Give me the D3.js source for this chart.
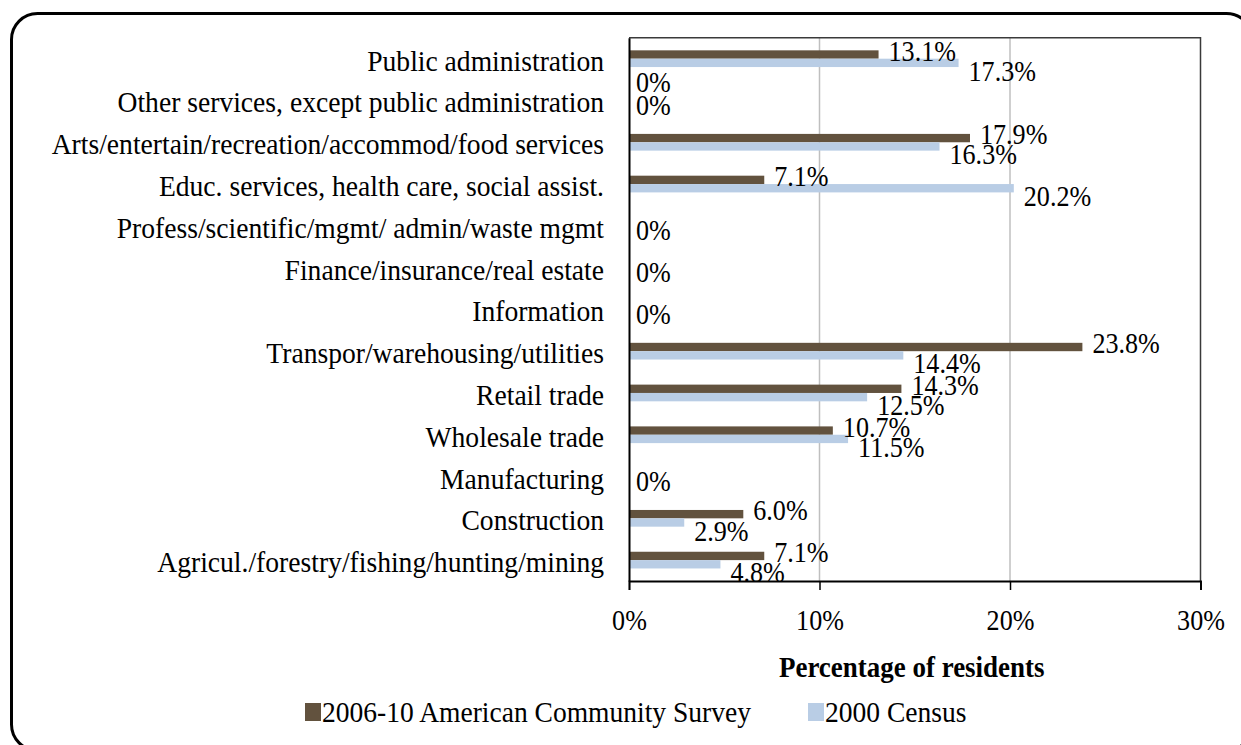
<!DOCTYPE html>
<html>
<head>
<meta charset="utf-8">
<script src="https://cdn.jsdelivr.net/npm/d3@7"></script>
<style>
  html, body { margin: 0; padding: 0; background: #fff; }
  svg { display: block; }
  text { font-family: "Liberation Serif", "Times New Roman", serif; fill: #000; }
</style>
</head>
<body>
<svg id="chart" width="1241" height="745"></svg>
<script>
// ---- data ----
const categories = [
  "Public administration",
  "Other services, except public administration",
  "Arts/entertain/recreation/accommod/food services",
  "Educ. services, health care, social assist.",
  "Profess/scientific/mgmt/ admin/waste mgmt",
  "Finance/insurance/real estate",
  "Information",
  "Transpor/warehousing/utilities",
  "Retail trade",
  "Wholesale trade",
  "Manufacturing",
  "Construction",
  "Agricul./forestry/fishing/hunting/mining"
];
const seriesNames = ["2006-10 American Community Survey", "2000 Census"];
const acsValues    = [13.1, 0, 17.9, 7.1, null, null, null, 23.8, 14.3, 10.7, null, 6.0, 7.1];
const censusValues = [17.3, 0, 16.3, 20.2, 0, 0, 0, 14.4, 12.5, 11.5, 0, 2.9, 4.8];
const xTicks = [0, 10, 20, 30];
const axisTitle = "Percentage of residents";
const colors = ["#62523E", "#B9CDE5"];

// ---- layout ----
const svg = d3.select("#chart");
const plot = { left: 629, right: 1200.5, top: 37.8, bottom: 581 };

// outer rounded frame
svg.append("rect")
  .attr("x", 11.5).attr("y", 13.5)
  .attr("width", 1241).attr("height", 737)
  .attr("rx", 26).attr("ry", 26)
  .attr("fill", "none").attr("stroke", "#000").attr("stroke-width", 3);

const x = d3.scaleLinear().domain([0, 30]).range([plot.left, plot.right]);
const y = d3.scaleBand().domain(categories).range([plot.top, plot.bottom])
  .paddingInner(0.6).paddingOuter(0.3);
const ySub = d3.scaleBand().domain(seriesNames).range([0, y.bandwidth()]);

function scaledText(sel, sx) {
  return sel.attr("transform", function() {
    const tx = +this.getAttribute("data-x"), ty = +this.getAttribute("data-y");
    return `translate(${tx},${ty}) scale(${sx},1)`;
  });
}

// gridlines
svg.append("g").selectAll("line")
  .data(xTicks.filter(t => t > 0 && t < 30))
  .join("line")
  .attr("x1", d => x(d)).attr("x2", d => x(d))
  .attr("y1", plot.top).attr("y2", plot.bottom)
  .attr("stroke", "#BFBFBF").attr("stroke-width", 1.5);

// plot frame (top & right)
svg.append("path")
  .attr("d", `M${plot.left},${plot.top}H${plot.right}V${plot.bottom}`)
  .attr("fill", "none").attr("stroke", "#3a3a3a").attr("stroke-width", 1.5);

// bars
const series = [acsValues, censusValues];
series.forEach((vals, si) => {
  svg.append("g").selectAll("rect")
    .data(categories.map((c, i) => ({ c, v: vals[i] })).filter(d => d.v !== null && d.v > 0))
    .join("rect")
    .attr("x", x(0))
    .attr("y", d => y(d.c) + ySub(seriesNames[si]))
    .attr("width", d => x(d.v) - x(0))
    .attr("height", ySub.bandwidth())
    .attr("fill", colors[si]);
});

// value labels (data labels at outside end, nudged apart like the original)
const fmt = v => v === 0 ? "0%" : v.toFixed(1) + "%";
function labelDy(si, i) {
  const other = series[1 - si][i];
  if (si === 0) return series[0][i] === 0 ? -4 : 6;
  if (other === null) return 10;           // lone label: near band centre
  return series[1][i] === 0 ? 10 : 18;
}
series.forEach((vals, si) => {
  svg.append("g").selectAll("text")
    .data(categories.map((c, i) => ({ c, i, v: vals[i] })).filter(d => d.v !== null))
    .join("text")
    .attr("data-x", d => x(d.v) + (d.v === 0 ? 7 : 10))
    .attr("data-y", d => y(d.c) + ySub(seriesNames[si]) + ySub.bandwidth() / 2 + labelDy(si, d.i))
    .attr("font-size", 30)
    .attr("text-anchor", "start")
    .text(d => fmt(d.v))
    .call(scaledText, 0.87);
});

// x axis
const xAxis = d3.axisBottom(x).tickValues(xTicks).tickFormat(d => d + "%").tickSize(9).tickPadding(0);
const gx = svg.append("g").attr("transform", `translate(0,${plot.bottom})`).call(xAxis);
gx.select(".domain").attr("stroke", "#000").attr("stroke-width", 1.8);
gx.selectAll(".tick line").attr("stroke", "#000").attr("stroke-width", 1.5);
gx.selectAll(".tick text")
  .attr("y", null).attr("dy", null)
  .attr("data-x", 0).attr("data-y", 49)
  .attr("font-size", 29)
  .attr("font-family", "'Liberation Serif', 'Times New Roman', serif")
  .attr("fill", "#000")
  .call(scaledText, 0.9);

// y axis
const yAxis = d3.axisLeft(y).tickSize(0).tickPadding(0);
const gy = svg.append("g").attr("transform", `translate(${plot.left},0)`).call(yAxis);
gy.select(".domain").attr("stroke", "#000").attr("stroke-width", 2);
gy.selectAll(".tick text")
  .attr("x", null).attr("dy", null)
  .attr("data-x", -25).attr("data-y", 12)
  .attr("font-size", 30)
  .attr("text-anchor", "end")
  .attr("font-family", "'Liberation Serif', 'Times New Roman', serif")
  .attr("fill", "#000")
  .call(scaledText, 0.92);

// axis title
svg.append("text")
  .attr("data-x", (plot.left + plot.right) / 2 - 3)
  .attr("data-y", 677)
  .attr("font-size", 29)
  .attr("font-weight", "bold")
  .attr("text-anchor", "middle")
  .text(axisTitle)
  .call(scaledText, 0.93);

// legend
const legendX = [305, 808];
const legend = svg.append("g");
seriesNames.forEach((name, i) => {
  legend.append("rect")
    .attr("x", legendX[i]).attr("y", 703)
    .attr("width", 16).attr("height", 18)
    .attr("fill", colors[i]);
  legend.append("text")
    .attr("data-x", legendX[i] + 17).attr("data-y", 722)
    .attr("font-size", 29)
    .text(name)
    .call(scaledText, 0.95);
});
</script>
</body>
</html>
